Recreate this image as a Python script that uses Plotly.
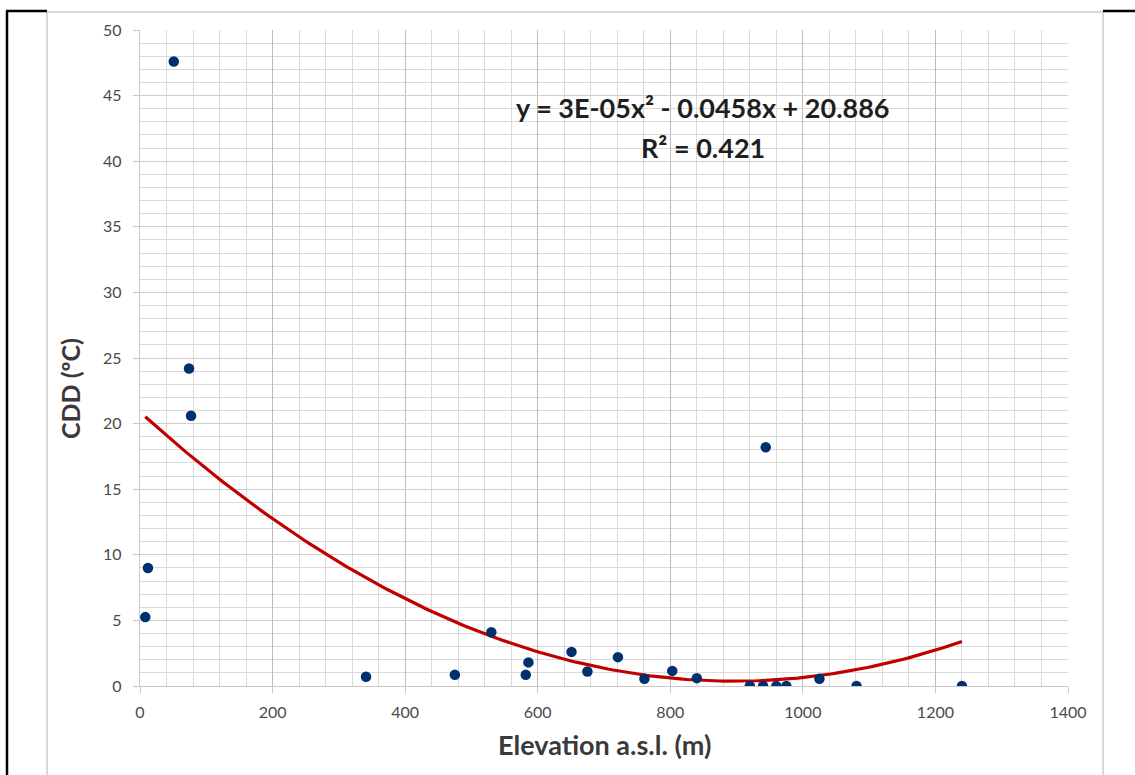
import numpy as np
import plotly.graph_objects as go

# Data
elevation = [8, 12, 51, 74, 77, 341, 475, 530, 582, 586, 651, 675, 721, 761,
             803, 840, 920, 940, 944, 960, 975, 1025, 1081, 1240]
cdd = [5.25, 9.0, 47.6, 24.2, 20.6, 0.7, 0.85, 4.1, 0.85, 1.8, 2.6, 1.1, 2.2, 0.55,
       1.15, 0.6, 0.0, 0.0, 18.2, 0.0, 0.0, 0.55, 0.0, 0.0]
x_ticks = [0, 200, 400, 600, 800, 1000, 1200, 1400]
y_ticks = [0, 5, 10, 15, 20, 25, 30, 35, 40, 45, 50]
# Order-2 polynomial trendline coefficients (a, b, c) as drawn in the chart
trend_coef = [2.556e-5, -0.0458, 20.886]
equation_text = "y = 3E-05x² - 0.0458x + 20.886"
r2_text = "R² = 0.421"

# Trendline spans the data range
trend_x = np.linspace(min(elevation), max(elevation), 200)
trend_y = np.polyval(trend_coef, trend_x)

GRAY_TXT = "#4a4a4a"
FONT = "Lato"

fig = go.Figure()
fig.add_trace(go.Scatter(x=trend_x, y=trend_y, mode="lines",
                         line=dict(color="#C00000", width=3.2), hoverinfo="skip",
                         showlegend=False))
fig.add_trace(go.Scatter(x=elevation, y=cdd, mode="markers",
                         marker=dict(color="#00306E", size=10.5), showlegend=False))

fig.update_layout(
    width=1135, height=775,
    margin=dict(l=140, r=67, t=30, b=89),
    paper_bgcolor="white", plot_bgcolor="rgba(0,0,0,0)",
    font=dict(family=FONT, color=GRAY_TXT),
    showlegend=False,
)
fig.update_xaxes(
    range=[0, 1400], tickvals=x_ticks, ticktext=[str(v) for v in x_ticks],
    showgrid=True, gridcolor="#bdbdbd", gridwidth=1.3,
    minor=dict(dtick=40, tick0=0, showgrid=True, gridcolor="#dadada", gridwidth=1.3),
    showline=True, linecolor="#c8c8c8", linewidth=1.3,
    ticks="outside", ticklen=6, tickcolor="#c8c8c8",
    tickfont=dict(family=FONT, size=16, color=GRAY_TXT),
    ticklabelstandoff=6, zeroline=False,
)
fig.update_yaxes(
    range=[0, 50], tickvals=y_ticks, ticktext=[str(v) for v in y_ticks],
    showgrid=True, gridcolor="#cfcfcf", gridwidth=1.3,
    minor=dict(dtick=1, tick0=0, showgrid=True, gridcolor="#dadada", gridwidth=1.3),
    showline=True, linecolor="#c8c8c8", linewidth=1.3,
    ticks="outside", ticklen=6, tickcolor="#c8c8c8",
    tickfont=dict(family=FONT, size=16, color=GRAY_TXT),
    ticklabelstandoff=8, zeroline=False,
)

def px(xp):
    return (xp - 140) / 928

def py(yp):
    return (686 - yp) / 656

# Axis titles
fig.add_annotation(text="<b>Elevation a.s.l. (m)</b>", xref="paper", yref="paper",
                   x=px(604), y=py(744), showarrow=False,
                   font=dict(family=FONT, size=27, color="#3a3a3a"),
                   xanchor="center", yanchor="middle")
fig.add_annotation(text="<b>CDD (ºC)</b>", xref="paper", yref="paper",
                   x=px(70), y=py(389), showarrow=False, textangle=-90,
                   font=dict(family=FONT, size=25, color="#3a3a3a"),
                   xanchor="center", yanchor="middle")
# Trendline equation
fig.add_annotation(text="<b>" + equation_text + "</b>", xref="paper", yref="paper",
                   x=px(703), y=py(107), showarrow=False,
                   font=dict(family=FONT, size=27, color="#1f1f1f"),
                   xanchor="center", yanchor="middle")
fig.add_annotation(text="<b>" + r2_text + "</b>", xref="paper", yref="paper",
                   x=px(703), y=py(147), showarrow=False,
                   font=dict(family=FONT, size=27, color="#1f1f1f"),
                   xanchor="center", yanchor="middle")

# Chart-area border and outer frame lines
shapes = [
    dict(type="line", x0=px(47), x1=px(47), y0=py(12), y1=py(780),
         line=dict(color="#d9d9d9", width=2)),
    dict(type="line", x0=px(1103), x1=px(1103), y0=py(12), y1=py(780),
         line=dict(color="#d9d9d9", width=2)),
    dict(type="line", x0=px(47), x1=px(1103), y0=py(12), y1=py(12),
         line=dict(color="#d9d9d9", width=2)),
    dict(type="line", x0=px(7), x1=px(7), y0=py(11), y1=py(780),
         line=dict(color="black", width=2.5)),
    dict(type="line", x0=px(6), x1=px(47), y0=py(11), y1=py(11),
         line=dict(color="black", width=2.5)),
    dict(type="line", x0=px(1103), x1=px(1140), y0=py(11), y1=py(11),
         line=dict(color="black", width=2.5)),
]
for s in shapes:
    s.update(xref="paper", yref="paper", layer="below")
fig.update_layout(shapes=shapes)

fig.write_html("out.html", config={"displayModeBar": False},
               post_script="document.body.style.margin='0px';")
